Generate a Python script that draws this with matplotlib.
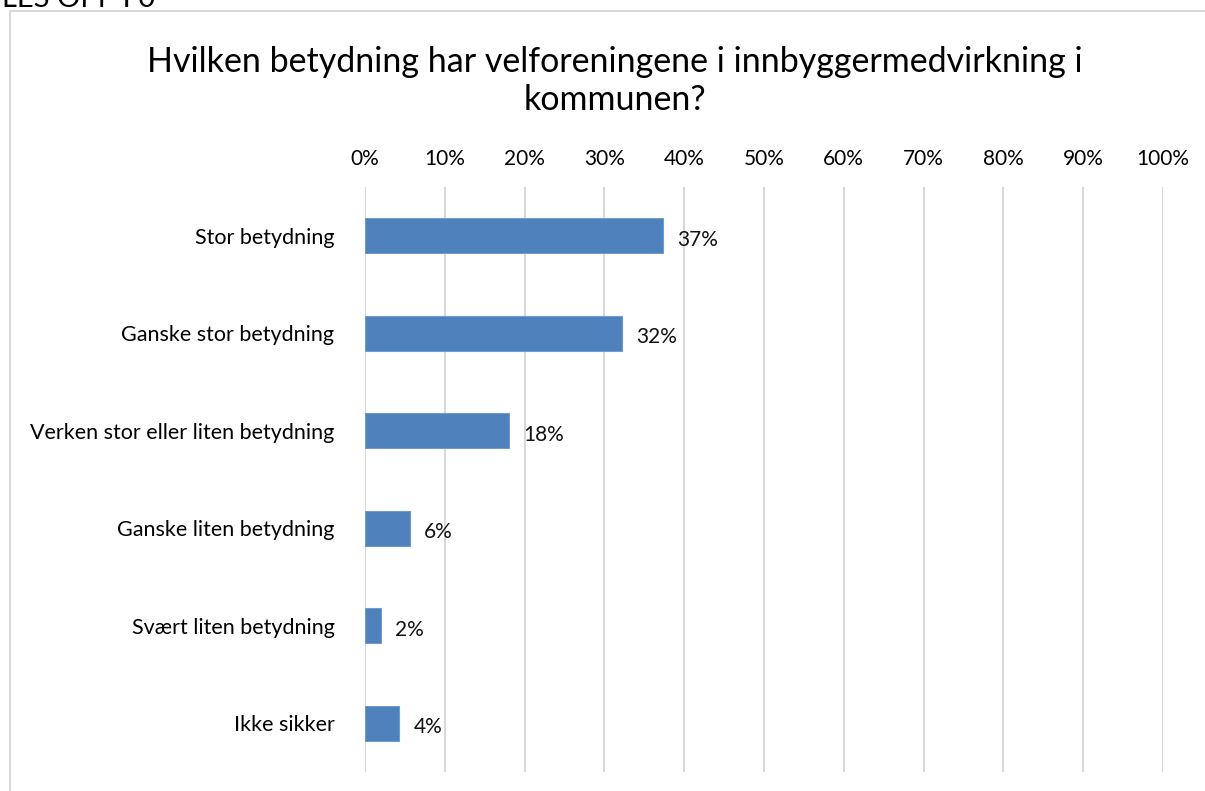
import matplotlib.pyplot as plt
from matplotlib.patches import Rectangle

plt.rcParams['font.family'] = ['Lato', 'DejaVu Sans']

categories = [
    "Stor betydning",
    "Ganske stor betydning",
    "Verken stor eller liten betydning",
    "Ganske liten betydning",
    "Svært liten betydning",
    "Ikke sikker",
]
values = [37.3, 32.2, 18.0, 5.6, 2.0, 4.3]
value_labels = ["37%", "32%", "18%", "6%", "2%", "4%"]
ticks = list(range(0, 101, 10))
tick_labels = [f"{t}%" for t in ticks]
title = "Hvilken betydning har velforeningene i innbyggermedvirkning i\nkommunen?"

W, H = 1205, 791
fig = plt.figure(figsize=(W / 100, H / 100), dpi=100)

# chart frame (light grey border, cut at right/bottom)
fig.patches.append(Rectangle((10 / W, -0.1), 1.2, (H - 11) / H + 0.1,
                             transform=fig.transFigure, fill=False,
                             edgecolor='#D9D9D9', linewidth=1.5))
# heading above the chart, clipped by the top edge as in the source
fig.text(2 / W, 1 - 7 / H, "LES OPP I 0", fontsize=21, va='baseline', ha='left', color='black')

ax = fig.add_axes([365 / W, 1 - 772 / H, (1163 - 365) / W, (772 - 187) / H])

y = list(range(len(categories)))
ax.barh(y, values, height=0.36, color='#4F81BD', edgecolor='#6F9BD1', linewidth=0.8, zorder=3)
for yi, v, lab in zip(y, values, value_labels):
    ax.text(v + 1.8, yi + 0.04, lab, va='center', ha='left', fontsize=15, color='#111111')

ax.set_xlim(0, 100)
ax.set_ylim(len(categories) - 0.5, -0.5)
ax.set_xticks(ticks)
ax.set_xticklabels(tick_labels, fontsize=15)
ax.xaxis.tick_top()
ax.tick_params(axis='x', length=0, pad=13)
ax.set_yticks(y)
ax.set_yticklabels(categories, fontsize=15.5)
ax.tick_params(axis='y', length=0, pad=22)
ax.grid(axis='x', color='#D9D9D9', linewidth=1.5, zorder=0)
for s in ax.spines.values():
    s.set_visible(False)

fig.text(615 / W, 1 - 81 / H, title, ha='center', va='center', fontsize=24.5, linespacing=1.25)

fig.savefig('out.png', dpi=100)
